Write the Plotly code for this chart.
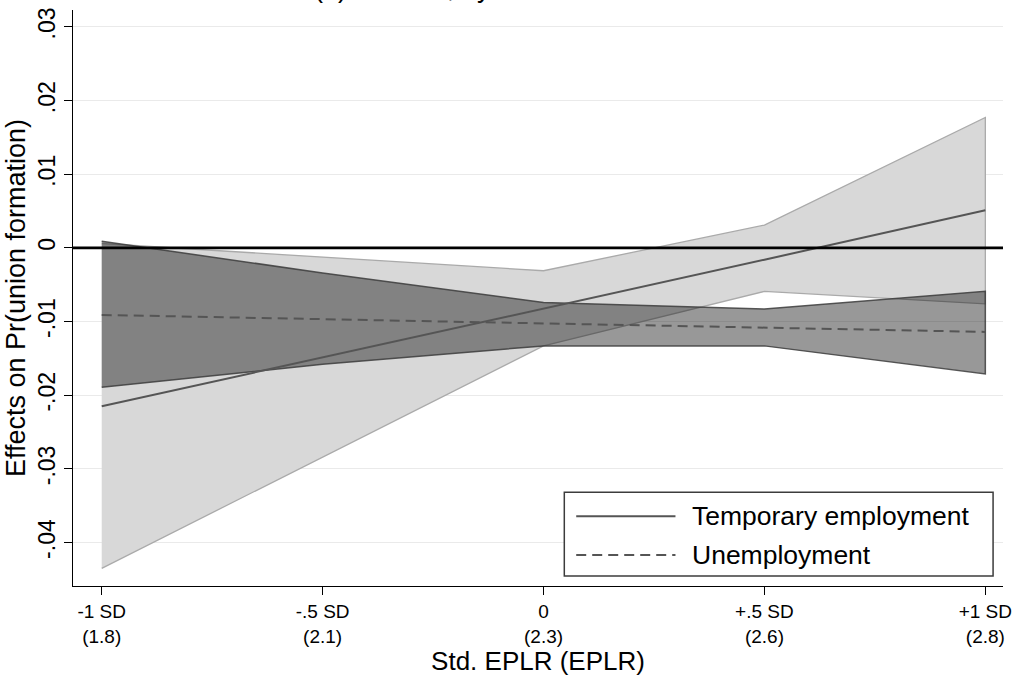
import plotly.graph_objects as go

# Marginal effects of labour-market status on Pr(union formation) across EPLR
eplr_pos = [-1.0, -0.5, 0.0, 0.5, 1.0]
eplr_labels = ["-1 SD<br>(1.8)", "-.5 SD<br>(2.1)", "0<br>(2.3)", "+.5 SD<br>(2.6)", "+1 SD<br>(2.8)"]

temp_est = [-0.0215, -0.0149, -0.0082, -0.0016, 0.0051]
temp_lo = [-0.0435, -0.0284, -0.0133, -0.0059, -0.0076]
temp_hi = [0.0006, -0.0013, -0.0031, 0.0031, 0.0177]

unemp_est = [-0.0091, -0.0097, -0.0102, -0.0108, -0.0114]
unemp_lo = [-0.0189, -0.0158, -0.0133, -0.0133, -0.0171]
unemp_hi = [0.0009, -0.0034, -0.0074, -0.0083, -0.0059]

y_ticks = [-0.04, -0.03, -0.02, -0.01, 0.0, 0.01, 0.02, 0.03]
y_ticktext = ["-.04", "-.03", "-.02", "-.01", "0", ".01", ".02", ".03"]

series_names = ["Temporary employment", "Unemployment"]

FONT = "Liberation Sans, Arial, sans-serif"
W, H = 1020, 676
M_L, M_R, M_T, M_B = 73, 10, 8, 90


def px_x(px):
    return (px - M_L) / (W - M_L - M_R)


def px_y(py):
    return (H - M_B - py) / (H - M_T - M_B)


fig = go.Figure()

# confidence band, temporary employment (light)
fig.add_trace(go.Scatter(
    x=eplr_pos + eplr_pos[::-1], y=temp_hi + temp_lo[::-1],
    fill="toself", fillcolor="rgb(216,216,216)",
    line=dict(color="rgb(170,170,170)", width=1.3),
    mode="lines", showlegend=False, hoverinfo="skip"))

# confidence band, unemployment (dark, translucent)
fig.add_trace(go.Scatter(
    x=eplr_pos + eplr_pos[::-1], y=unemp_hi + unemp_lo[::-1],
    fill="toself", fillcolor="rgba(20,20,20,0.44)",
    line=dict(color="rgba(60,60,60,0.85)", width=1.5),
    mode="lines", showlegend=False, hoverinfo="skip"))

# point estimates
fig.add_trace(go.Scatter(
    x=eplr_pos, y=temp_est, mode="lines", name=series_names[0],
    line=dict(color="rgb(85,85,85)", width=2), showlegend=False))
fig.add_trace(go.Scatter(
    x=eplr_pos, y=unemp_est, mode="lines", name=series_names[1],
    line=dict(color="rgb(85,85,85)", width=2, dash="10px,6px"), showlegend=False))

shapes = [
    # reference line at zero
    dict(type="line", xref="paper", yref="y", x0=0, x1=1, y0=0, y1=0,
         line=dict(color="black", width=2.6), layer="above"),
    # legend frame
    dict(type="rect", xref="paper", yref="paper",
         x0=px_x(568), x1=px_x(1000), y0=px_y(576), y1=px_y(492),
         fillcolor="white", line=dict(color="rgb(60,60,60)", width=1.5), layer="above"),
]

annotations = []
legend_rows = [516, 555]
legend_dash = ["solid", "10px,6px"]
for name, row, dash in zip(series_names, legend_rows, legend_dash):
    shapes.append(dict(type="line", xref="paper", yref="paper",
                       x0=px_x(580), x1=px_x(680), y0=px_y(row), y1=px_y(row),
                       line=dict(color="rgb(85,85,85)", width=2, dash=dash), layer="above"))
    annotations.append(dict(xref="paper", yref="paper", x=px_x(695), y=px_y(row),
                            xanchor="left", yanchor="middle", text=name, showarrow=False,
                            font=dict(family=FONT, size=26.5, color="black")))

# panel title (runs off the top edge)
annotations.append(dict(xref="paper", yref="paper", x=px_x(314), y=px_y(3),
                        xanchor="left", yanchor="bottom", text="(a) Women, by EPLR",
                        showarrow=False, font=dict(family=FONT, size=27, color="black")))

fig.update_layout(
    width=W, height=H,
    margin=dict(l=M_L, r=M_R, t=M_T, b=M_B),
    paper_bgcolor="white", plot_bgcolor="white",
    font=dict(family=FONT, color="black"),
    shapes=shapes, annotations=annotations,
    showlegend=False,
)

fig.update_xaxes(
    range=[-1.065, 1.040], tickvals=eplr_pos, ticktext=eplr_labels,
    ticks="outside", ticklen=8, tickwidth=1.3, tickcolor="black",
    showline=True, linecolor="black", linewidth=1.3, showgrid=False, zeroline=False,
    ticklabeloverflow="allow",
    tickfont=dict(family=FONT, size=19),
    title=dict(text="Std. EPLR (EPLR)", font=dict(family=FONT, size=26), standoff=0),
)
fig.update_yaxes(
    range=[-0.0459, 0.0323], tickvals=y_ticks, ticktext=y_ticktext, tickangle=-90,
    ticks="outside", ticklen=8, tickwidth=1.3, tickcolor="black",
    showline=True, linecolor="black", linewidth=1.3,
    showgrid=True, gridcolor="rgb(234,234,234)", gridwidth=1, zeroline=False,
    tickfont=dict(family=FONT, size=23),
    title=dict(text="Effects on Pr(union formation)", font=dict(family=FONT, size=27), standoff=0),
)

fig.write_html("out.html")
